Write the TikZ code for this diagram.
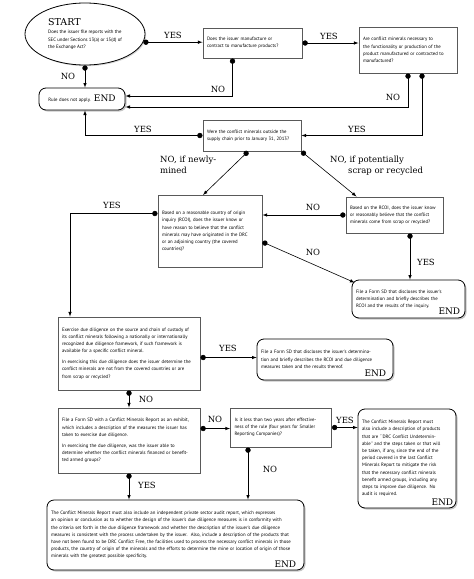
\documentclass[tikz,border=0pt]{standalone}
\usepackage{fontspec}
\usetikzlibrary{shapes.geometric,arrows,positioning,shadows}
\newfontfamily\bodyfont{PT Sans}
\newfontfamily\labelfont{DejaVu Serif}
\newcommand{\boxtext}{\bodyfont\fontsize{4.8}{7.2}\selectfont}
\newcommand{\lbltext}{\labelfont\fontsize{8.5}{11}\selectfont}
\newcommand{\finaltext}{\labelfont\fontsize{9}{11}\selectfont}
\tikzset{
  qbox/.style 2 args={draw=black!65,line width=1pt,align=left,text width=#1,minimum height=#2,inner xsep=4pt,inner ysep=3pt,font=\boxtext},
  endbox/.style 2 args={qbox={#1}{#2},draw=black,line width=.8pt,rounded corners=7pt,fill=white,drop shadow={shadow xshift=1.5pt,shadow yshift=-1.5pt,opacity=.45}},
  lbl/.style={font=\lbltext,inner sep=1pt},
  endlbl/.style={font=\finaltext,inner sep=0pt},
  conn/.style={*->,>=latex,line width=.6pt}
}
\begin{document}
\begin{tikzpicture}[x=1pt,y=-1pt]
\useasboundingbox (0,0) rectangle (474,579);
\node[ellipse,draw,line width=.8pt,fill=white,minimum width=120pt,minimum height=62pt,inner sep=0pt,align=left,font=\boxtext,drop shadow={shadow xshift=1.2pt,shadow yshift=-1.2pt,opacity=.3}] (start) at (85,34)
  {{\labelfont\fontsize{9.5}{11}\selectfont START}\\[1pt]Does the issuer file reports with the\\SEC under Sections 13(a) or 15(d) of\\the Exchange Act?};
\node[qbox={91pt}{30pt}] (manuf) at (252.5,43) {Does the issuer manufacture or\\contract to manufacture products?};
\node[qbox={90pt}{46pt}] (necess) at (408,50) {Are conflict minerals necessary to\\the functionality or production of the\\product manufactured or contracted to\\manufactured?};
\node[endbox={78pt}{22pt},align=center] (end1) at (82,99) {Rule does not apply.\ \ {\finaltext END}};
\node[qbox={90pt}{31pt}] (supply) at (252,135.5) {Were the conflict minerals outside the\\supply chain prior to January 31, 2013?};
\node[qbox={96pt}{72pt}] (rcoi) at (210,231.5) {Based on a reasonable country of origin\\inquiry (RCOI), does the issuer know or\\have reason to believe that the conflict\\minerals may have originated in the DRC\\or an adjoining country (the covered\\countries)?};
\node[qbox={89pt}{36pt}] (scrap) at (394.5,215) {Based on the RCOI, does the issuer know\\or reasonably believe that the conflict\\minerals come from scrap or recycled?};
\node[endbox={105pt}{38pt}] (sd1) at (408.5,299) {File a Form SD that discloses the issuer's\\determination and briefly describes the\\RCOI and the results of the inquiry.};
\node[qbox={134pt}{73pt}] (dd) at (129,353.5) {Exercise due diligence on the source and chain of custody of\\its conflict minerals following a nationally or internationally\\recognized due diligence framework, if such framework is\\available for a specific conflict mineral.\\[3.5pt]In exercising this due diligence does the issuer determine the\\conflict minerals are not from the covered countries or are\\from scrap or recycled?};
\node[endbox={128pt}{41pt}] (sd2) at (325,359.5) {File a Form SD that discloses the issuer's determina-\\tion and briefly describes the RCOI and due diligence\\measures taken and the results thereof.};
\node[qbox={134pt}{65pt}] (cmr) at (129,440.5) {File a Form SD with a Conflict Minerals Report as an exhibit,\\which includes a description of the measures the issuer has\\taken to exercise due diligence.\\[3.5pt]In exercising the due diligence, was the issuer able to\\determine whether the conflict minerals financed or benefit-\\ted armed groups?};
\node[qbox={93pt}{39pt}] (twoyr) at (281,427.5) {Is it less than two years after effective-\\ness of the rule (four years for Smaller\\Reporting Companies)?};
\node[endbox={90pt}{99pt}] (rcmr) at (407,458.5) {The Conflict Minerals Report must\\also include a description of products\\that are ``DRC Conflict Undetermin-\\able'' and the steps taken or that will\\be taken, if any, since the end of the\\period covered in the last Conflict\\Minerals Report to mitigate the risk\\that the necessary conflict minerals\\benefit armed groups, including any\\steps to improve due diligence. No\\audit is required.};
\node[endbox={249pt}{70pt}] (audit) at (175.5,535) {The Conflict Minerals Report must also include an independent private sector audit report, which expresses\\an opinion or conclusion as to whether the design of the issuer's due diligence measures is in conformity with\\the criteria set forth in the due diligence framework and whether the description of the issuer's due diligence\\measures is consistent with the process undertaken by the issuer.\ \ Also, include a description of the products that\\have not been found to be DRC Conflict Free, the facilities used to process the necessary conflict minerals in those\\products, the country of origin of the minerals and the efforts to determine the mine or location of origin of those\\minerals with the greatest possible specificity.};
\node[endlbl,above left=4pt and 5pt of sd1.south east] (sd1end) {END};
\node[endlbl,above left=4pt and 7pt of sd2.south east] (sd2end) {END};
\node[endlbl,above left=3pt and 3pt of rcmr.south east] (rcmrend) {END};
\node[endlbl,above left=3pt and 8pt of audit.south east] (auditend) {END};

\draw[conn] (start.-8) -- (start.-8 -| manuf.west);
\draw[conn] (manuf.east) -- (manuf.east -| necess.west);
\draw[conn] ([xshift=-20pt]manuf.south) |- ([yshift=3pt]end1.east);
\draw[conn] (necess.south) |- ([yshift=-8pt]end1.east);
\draw[conn] ([xshift=14pt]necess.south) |- (supply.east);
\draw[conn] (start.south) -- (start.south |- end1.north);
\draw[conn] (supply.west) -| (start.south |- end1.south);
\draw[conn] ([xshift=-4pt]supply.south) -- ([xshift=-7pt]rcoi.north);
\draw[conn] (supply.south east) -- ([xshift=11pt]scrap.north west);
\draw[conn] (scrap.west) -- (scrap.west -| rcoi.east);
\draw[conn] ([yshift=-10.5pt]rcoi.east) -- ([xshift=3pt,yshift=-3pt]sd1.north west);
\draw[conn] ([xshift=15.5pt]scrap.south) -- ([xshift=15.5pt]scrap.south |- sd1.north);
\draw[conn] ([yshift=18pt]rcoi.west) -| ([xshift=12.5pt]dd.north west);
\draw[conn] ([yshift=-4pt]dd.east) -- ([yshift=-4pt]dd.east -| sd2.west);
\draw[conn] (dd.south) -- (cmr.north);
\draw[conn] ([yshift=12pt]cmr.east) -- ([yshift=12pt]cmr.east -| twoyr.west);
\draw[conn] (twoyr.east) -- (twoyr.east -| rcmr.west);
\draw[conn] ([xshift=-33pt]twoyr.south) -- ([xshift=-33pt]twoyr.south |- audit.north);
\draw[conn] (cmr.south) -- (cmr.south |- audit.north);

\node[lbl] (y1) at (173,35) {YES};
\node[lbl] (y2) at (329,36) {YES};
\node[lbl] (n1) at (218,89) {NO};
\node[lbl] (n2) at (393,97) {NO};
\node[lbl] (y3) at (357,129) {YES};
\node[lbl] (n3) at (68,76) {NO};
\node[lbl] (y4) at (143,129) {YES};
\node[lbl,align=left,anchor=north west] (n4) at (159,155) {NO, if newly-\\mined};
\node[lbl,align=left,anchor=north west] (n5) at (329,155) {NO, if potentially\\\hspace*{18pt}scrap or recycled};
\node[lbl] (n6) at (313,207) {NO};
\node[lbl] (n7) at (313,252) {NO};
\node[lbl] (y5) at (426,262) {YES};
\node[lbl] (y6) at (112,205) {YES};
\node[lbl] (y7) at (228,348) {YES};
\node[lbl] (n8) at (146,399) {NO};
\node[lbl] (n9) at (215,419) {NO};
\node[lbl] (y8) at (345,420) {YES};
\node[lbl] (n10) at (270,469) {NO};
\node[lbl] (y9) at (147,485) {YES};
\end{tikzpicture}
\end{document}
